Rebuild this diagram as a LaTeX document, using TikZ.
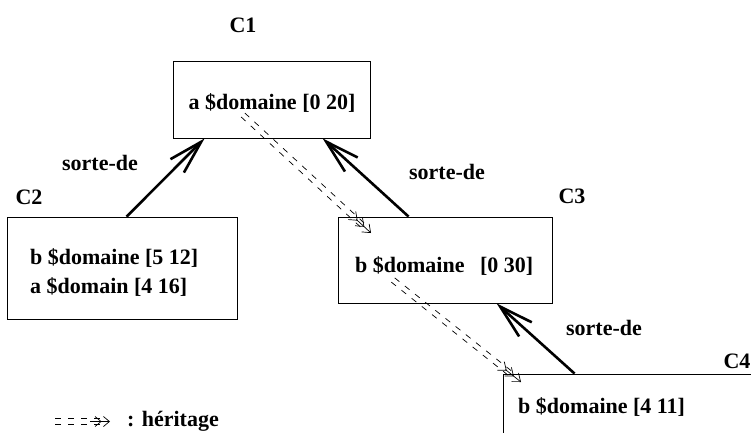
\documentclass[tikz,border=0pt]{standalone}
\usepackage{fontspec}
\setmainfont{Liberation Serif}
\usetikzlibrary{arrows.meta,calc}
\newcommand{\herit}[3]{%
  \draw[heritage] ($(#1)!2.7pt!90:(#2)$) -- ($(#2)!2.7pt!-90:(#1)$);
  \draw[heritage] ($(#1)!2.7pt!-90:(#2)$) -- ($(#2)!2.7pt!90:(#1)$);
  \draw[#3] ($(#2)!20pt!(#1)$) -- (#2);}
\begin{document}
\begin{tikzpicture}[x=1pt,y=-1pt,
  every node/.style={font=\bfseries\fontsize{22}{28}\selectfont, inner sep=0pt},
  box/.style={draw, line width=0.8pt, rectangle},
  lbl/.style={anchor=center},
  txt/.style={anchor=west, align=left},
  sorte/.style={line width=2.6pt, -{Straight Barb[length=34pt,width=19pt,line width=2.6pt]}},
  heritage/.style={line width=0.7pt, dash pattern=on 6pt off 7pt, shorten >=9pt},
  hhead/.style={line width=0.7pt, -{Straight Barb[length=7pt,width=11pt,sep=1.2pt]Straight Barb[length=7pt,width=11pt,sep=1.2pt]Straight Barb[length=7pt,width=11pt]}},
  lhead/.style={line width=0.7pt, -{Straight Barb[length=6pt,width=10pt,sep=1.5pt]Straight Barb[length=6pt,width=10pt]}}
]
\clip (0,0) rectangle (751,432);
% heritage (dashed double) arrows
\coordinate (h1s) at (243,115);
\coordinate (h1t) at (371,233);
\coordinate (h2s) at (393,280);
\coordinate (h2t) at (521,382);
\coordinate (hls) at (55,421.5);
\coordinate (hlt) at (110,421.5);
\herit{h1s}{h1t}{hhead}
\herit{h2s}{h2t}{hhead}
\herit{hls}{hlt}{lhead}
\node[txt] (leg) at (127,421) {: héritage};
% boxes
\node[box, minimum width=197pt, minimum height=77pt] (c1) at (271.5,99.5) {};
\node[box, minimum width=230pt, minimum height=102pt] (c2) at (122,268) {};
\node[box, minimum width=214pt, minimum height=86pt] (c3) at (445,260) {};
\node[box, minimum width=297pt, minimum height=106pt] (c4) at (651.5,427) {};
% box labels
\node[lbl] (l1) at (243,25) {C1};
\node[lbl] (l2) at (29,197) {C2};
\node[lbl] (l3) at (572,196) {C3};
\node[lbl] (l4) at (737,361) {C4};
% box contents
\node[lbl] (t1) at (272,103) {a \$domaine [0 20]};
\node[txt] (t2a) at (30,258) {b \$domaine [5 12]};
\node[txt] (t2b) at (30,287) {a \$domain [4 16]};
\node[txt] (t3) at (355,266) {b \$domaine\hspace{10pt} [0 30]};
\node[txt] (t4) at (518,407) {b \$domaine [4 11]};
% sorte-de arrows
\draw[sorte] ([xshift=120pt]c2.north west) -- ([xshift=32pt]c1.south west);
\draw[sorte] ([xshift=71pt]c3.north west) -- ([xshift=150pt]c1.south west);
\draw[sorte] ([xshift=72pt]c4.north west) -- ([xshift=159pt]c3.south west);
\node[lbl] (s1) at (100,163) {sorte-de};
\node[lbl] (s2) at (447,172) {sorte-de};
\node[lbl] (s3) at (604,328) {sorte-de};
\end{tikzpicture}
\end{document}
